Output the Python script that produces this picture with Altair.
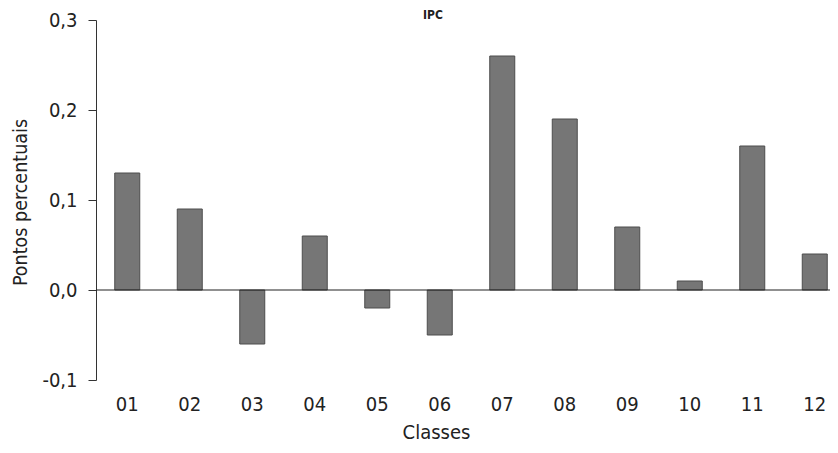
import altair as alt
import pandas as pd

# ---- data ----
classes = ["01", "02", "03", "04", "05", "06", "07", "08", "09", "10", "11", "12"]
values = [0.13, 0.09, -0.06, 0.06, -0.02, -0.05, 0.26, 0.19, 0.07, 0.01, 0.16, 0.04]
y_ticks = [-0.1, 0.0, 0.1, 0.2, 0.3]
chart_title = ["IPC"]
y_title = "Pontos percentuais"
x_title = "Classes"

FONT = "DejaVu Sans Condensed, DejaVu Sans, sans-serif"
TXT = "#222222"

df = pd.DataFrame({"classe": classes, "valor": values})

label_expr = "replace(replace(format(datum.value, '.1f'), '.', ','), '\u2212', '-')"

bars = alt.Chart(df).mark_bar(size=25, color="#767676", stroke="#4d4d4d", strokeWidth=1).encode(
    x=alt.X(
        "classe:N",
        sort=classes,
        scale=alt.Scale(range=[0, 750], paddingInner=0, paddingOuter=0),
        axis=alt.Axis(
            title=x_title,
            domain=False,
            ticks=False,
            labelAngle=0,
            labelFont=FONT,
            labelFontSize=20,
            labelColor=TXT,
            labelPadding=14,
            titleFont=FONT,
            titleFontSize=20,
            titleFontWeight="normal",
            titleColor=TXT,
            titleX=340,
            titleY=58,
            titleBaseline="alphabetic",
            titleAlign="center",
        ),
    ),
    y=alt.Y(
        "valor:Q",
        scale=alt.Scale(domain=[-0.1, 0.3], nice=False, zero=False),
        axis=alt.Axis(
            title=y_title,
            values=y_ticks,
            grid=False,
            labelExpr=label_expr,
            domainColor="#333333",
            tickColor="#333333",
            tickSize=8,
            labelFont=FONT,
            labelFontSize=20,
            labelColor=TXT,
            labelPadding=11,
            titleFont=FONT,
            titleFontSize=19.5,
            titleFontWeight="normal",
            titleColor=TXT,
            titleAngle=270,
            titleX=-76,
            titleY=182,
            titleAlign="center",
            titleBaseline="middle",
        ),
    ),
)

zero = alt.Chart(pd.DataFrame({"z": [0.0]})).mark_rule(color="#222222", strokeWidth=1.2).encode(
    y=alt.datum(0.0)
)

title = alt.Chart(pd.DataFrame({"t": chart_title})).mark_text(
    font=FONT, fontSize=12, fontWeight="bold", color=TXT, align="center", baseline="alphabetic"
).encode(
    text="t:N",
    x=alt.value(337),
    y=alt.value(-1),
)

chart = alt.layer(bars, zero, title).properties(
    width=734,
    height=360,
    autosize=alt.AutoSizeParams(type="none"),
    padding={"left": 88, "top": 12, "right": 0, "bottom": 63},
    background="white",
).configure_view(stroke=None)

chart.save("out.html", embed_options={"renderer": "svg", "actions": False})
